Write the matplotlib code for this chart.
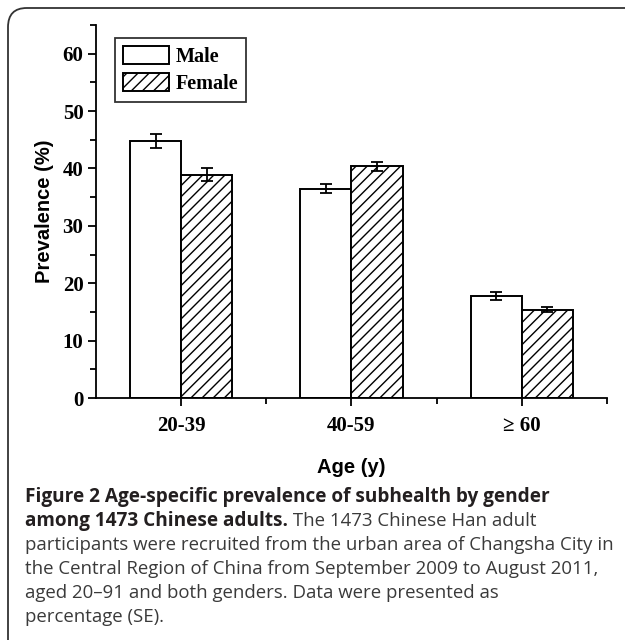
from matplotlib import pyplot as plt
from matplotlib.patches import FancyBboxPatch
from matplotlib.ticker import MultipleLocator, FixedLocator
import numpy as np

age_groups = ['20-39', '40-59', '\u2265 60']
male = [44.8, 36.5, 17.8]
male_se = [1.2, 0.8, 0.7]
female = [38.9, 40.4, 15.4]
female_se = [1.1, 0.8, 0.5]

SERIF = 'Liberation Serif'
SANS = 'Liberation Sans'
CAP = 'Open Sans'

fig = plt.figure(figsize=(6.25, 6.4), dpi=100)
W, H = 625, 640

# axes placed in pixel terms of the reference
ax = fig.add_axes([96 / W, 1 - 398 / H, (607 - 96) / W, (398 - 25) / H])

x = np.arange(1, len(age_groups) + 1)
bw = 0.3
err_kw = dict(ecolor='black', elinewidth=1.3, capsize=4, capthick=1.3)
ax.bar(x - bw / 2, male, bw, yerr=male_se, color='white', edgecolor='black',
       linewidth=1.4, label='Male', error_kw=err_kw)
ax.bar(x + bw / 2, female, bw, yerr=female_se, color='white', edgecolor='black',
       linewidth=1.4, hatch='///', label='Female', error_kw=err_kw)

ax.set_xlim(0.5, 3.5)
ax.set_ylim(0, 65)
ax.spines['top'].set_visible(False)
ax.spines['right'].set_visible(False)
for s in ('left', 'bottom'):
    ax.spines[s].set_linewidth(1.3)

ax.set_xticks(x)
ax.set_xticklabels(age_groups, fontfamily=SERIF, fontweight='bold', fontsize=15)
ax.xaxis.set_minor_locator(FixedLocator([1.5, 2.5, 3.5]))
ax.yaxis.set_major_locator(MultipleLocator(10))
ax.yaxis.set_minor_locator(MultipleLocator(5))
ax.set_yticks(range(0, 61, 10))
ax.set_yticklabels([str(v) for v in range(0, 61, 10)], fontfamily=SERIF,
                   fontweight='bold', fontsize=15)
ax.tick_params(which='major', length=6, width=1.3, direction='out', pad=3)
ax.tick_params(which='minor', length=4, width=1.3, direction='out')
ax.tick_params(axis='x', pad=7)

ax.set_ylabel('Prevalence (%)', fontfamily=SANS, fontweight='bold', fontsize=14.5, labelpad=6)
ax.set_xlabel('Age (y)', fontfamily=SANS, fontweight='bold', fontsize=14.5, labelpad=16)

leg = ax.legend(loc='upper left', bbox_to_anchor=(0.037, 0.965), borderaxespad=0,
                frameon=True, fancybox=False, edgecolor='black', handlelength=2.3,
                handleheight=1.0, handletextpad=0.3, borderpad=0.4, labelspacing=0.3,
                prop=dict(family=SERIF, weight='bold', size=14.5))
leg.get_frame().set_linewidth(1.3)

# caption
lines = [
    ('Figure 2 Age-specific prevalence of subhealth by gender', None),
    ('among 1473 Chinese adults.', ' The 1473 Chinese Han adult'),
    (None, 'participants were recruited from the urban area of Changsha City in'),
    (None, 'the Central Region of China from September 2009 to August 2011,'),
    (None, 'aged 20\u201391 and both genders. Data were presented as'),
    (None, 'percentage (SE).'),
]
y0 = 497
for i, (bold, normal) in enumerate(lines):
    yy = 1 - (y0 + 24 * i) / H
    xx = 25 / W
    if bold:
        t = fig.text(xx, yy, bold, fontfamily=CAP, fontweight='bold', fontsize=13.7,
                     color='#231f20', va='center')
        if normal:
            fig.canvas.draw()
            bb = t.get_window_extent()
            xx = bb.x1 / W
    if normal:
        fig.text(xx, yy, normal, fontfamily=CAP, fontsize=13.4, color='#3a3a3a', va='center')

frame = FancyBboxPatch((8 / W, -0.1), 1.2, 1 - 8 / H + 0.1,
                       boxstyle='round,pad=0,rounding_size=0.03',
                       transform=fig.transFigure, facecolor='none',
                       edgecolor='#333333', linewidth=1.3)
fig.patches.append(frame)

fig.savefig('out.png', dpi=100)
plt.close()
